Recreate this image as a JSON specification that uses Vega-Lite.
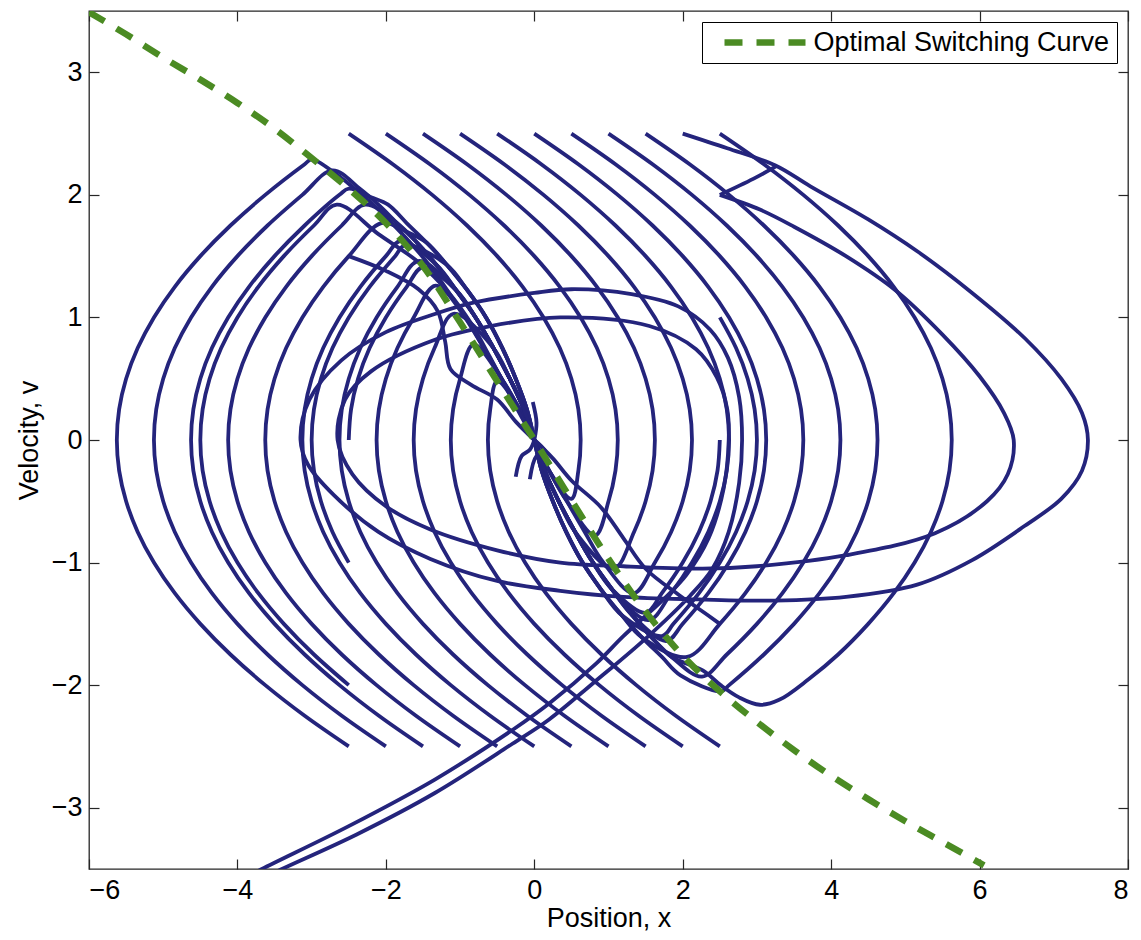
{
"$schema": "https://vega.github.io/schema/vega-lite/v6.json",
"width": 1039, "height": 858,
"autosize": {"type": "none"},
"padding": {"left": 89, "top": 11, "right": 13, "bottom": 71},
"background": "white",
"config": {
  "font": "Liberation Sans",
  "view": {"stroke": "#262626", "strokeWidth": 1.3},
  "axis": {"domain": false, "grid": false, "tickSize": -10, "tickColor": "#262626", "tickWidth": 1.2,
           "labelFontSize": 27, "labelColor": "#000", "labelPadding": 18,
           "titleFontSize": 27, "titleFontWeight": "normal", "titleColor": "#000"},
  "legend": {"strokeColor": "#000", "fillColor": "#fff", "padding": 7, "orient": "top-right", "offset": 11}
},
"datasets": {
"g": [
{"x":-6,"v":3.49},{"x":-5.5,"v":3.31},{"x":-5,"v":3.12},{"x":-4.5,"v":2.94},{"x":-4,"v":2.75},{"x":-3.5,"v":2.54},{"x":-3,"v":2.3},{"x":-2.5,"v":2.05},{"x":-2,"v":1.77},{"x":-1.5,"v":1.42},{"x":-1,"v":0.96},{"x":-0.5,"v":0.48},{"x":0,"v":0},{"x":0.5,"v":-0.49},{"x":1,"v":-0.97},{"x":1.5,"v":-1.4},{"x":2,"v":-1.76},{"x":2.5,"v":-2.05},{"x":3,"v":-2.3},{"x":3.5,"v":-2.53},{"x":4,"v":-2.74},{"x":4.5,"v":-2.93},{"x":5,"v":-3.11},{"x":5.5,"v":-3.28},{"x":6.06,"v":-3.47}
],
"b": [
{"s":"T1","x":-2.5,"v":2.5},{"s":"T1","x":-1.906,"v":2.25},{"s":"T1","x":-1.375,"v":2},{"s":"T1","x":-0.906,"v":1.75},{"s":"T1","x":-0.5,"v":1.5},{"s":"T1","x":-0.156,"v":1.25},{"s":"T1","x":0.125,"v":1},{"s":"T1","x":0.344,"v":0.75},{"s":"T1","x":0.5,"v":0.5},{"s":"T1","x":0.594,"v":0.25},{"s":"T1","x":0.625,"v":0},{"s":"T1","x":0.594,"v":-0.25},{"s":"T1","x":0.5,"v":-0.48},{"s":"T1","x":0.2,"v":-0.25},{"s":"T1","x":0,"v":0},

{"s":"T2","x":-2,"v":2.5},{"s":"T2","x":-1.406,"v":2.25},{"s":"T2","x":-0.875,"v":2},{"s":"T2","x":-0.406,"v":1.75},{"s":"T2","x":0,"v":1.5},{"s":"T2","x":0.344,"v":1.25},{"s":"T2","x":0.625,"v":1},{"s":"T2","x":0.844,"v":0.75},{"s":"T2","x":1,"v":0.5},{"s":"T2","x":1.094,"v":0.25},{"s":"T2","x":1.125,"v":0},{"s":"T2","x":1.094,"v":-0.25},{"s":"T2","x":1,"v":-0.5},{"s":"T2","x":0.82,"v":-0.78},{"s":"T2","x":0.44,"v":-0.5},{"s":"T2","x":0.2,"v":-0.25},{"s":"T2","x":0,"v":0},

{"s":"T3","x":-1.5,"v":2.5},{"s":"T3","x":-0.906,"v":2.25},{"s":"T3","x":-0.375,"v":2},{"s":"T3","x":0.094,"v":1.75},{"s":"T3","x":0.5,"v":1.5},{"s":"T3","x":0.844,"v":1.25},{"s":"T3","x":1.125,"v":1},{"s":"T3","x":1.344,"v":0.75},{"s":"T3","x":1.5,"v":0.5},{"s":"T3","x":1.594,"v":0.25},{"s":"T3","x":1.625,"v":0},{"s":"T3","x":1.594,"v":-0.25},{"s":"T3","x":1.5,"v":-0.5},{"s":"T3","x":1.344,"v":-0.75},{"s":"T3","x":1.07,"v":-1.05},{"s":"T3","x":0.55,"v":-0.75},{"s":"T3","x":0.33,"v":-0.5},{"s":"T3","x":0.14,"v":-0.25},{"s":"T3","x":0,"v":0},

{"s":"T4","x":-1,"v":2.5},{"s":"T4","x":-0.406,"v":2.25},{"s":"T4","x":0.125,"v":2},{"s":"T4","x":0.594,"v":1.75},{"s":"T4","x":1,"v":1.5},{"s":"T4","x":1.344,"v":1.25},{"s":"T4","x":1.625,"v":1},{"s":"T4","x":1.844,"v":0.75},{"s":"T4","x":2,"v":0.5},{"s":"T4","x":2.094,"v":0.25},{"s":"T4","x":2.125,"v":0},{"s":"T4","x":2.094,"v":-0.25},{"s":"T4","x":2,"v":-0.5},{"s":"T4","x":1.844,"v":-0.75},{"s":"T4","x":1.625,"v":-1},{"s":"T4","x":1.34,"v":-1.25},{"s":"T4","x":0.92,"v":-0.99},{"s":"T4","x":0.68,"v":-0.75},{"s":"T4","x":0.44,"v":-0.5},{"s":"T4","x":0.2,"v":-0.25},{"s":"T4","x":0,"v":0},

{"s":"T5","x":-0.5,"v":2.5},{"s":"T5","x":0.094,"v":2.25},{"s":"T5","x":0.625,"v":2},{"s":"T5","x":1.094,"v":1.75},{"s":"T5","x":1.5,"v":1.5},{"s":"T5","x":1.844,"v":1.25},{"s":"T5","x":2.125,"v":1},{"s":"T5","x":2.344,"v":0.75},{"s":"T5","x":2.5,"v":0.5},{"s":"T5","x":2.594,"v":0.25},{"s":"T5","x":2.625,"v":0},{"s":"T5","x":2.594,"v":-0.25},{"s":"T5","x":2.5,"v":-0.5},{"s":"T5","x":2.344,"v":-0.75},{"s":"T5","x":2.125,"v":-1},{"s":"T5","x":1.844,"v":-1.25},{"s":"T5","x":1.54,"v":-1.47},{"s":"T5","x":1.05,"v":-1.22},{"s":"T5","x":0.78,"v":-0.99},{"s":"T5","x":0.55,"v":-0.75},{"s":"T5","x":0.33,"v":-0.5},{"s":"T5","x":0.14,"v":-0.25},{"s":"T5","x":0,"v":0},

{"s":"T6","x":0,"v":2.5},{"s":"T6","x":0.594,"v":2.25},{"s":"T6","x":1.125,"v":2},{"s":"T6","x":1.594,"v":1.75},{"s":"T6","x":2,"v":1.5},{"s":"T6","x":2.344,"v":1.25},{"s":"T6","x":2.625,"v":1},{"s":"T6","x":2.844,"v":0.75},{"s":"T6","x":3,"v":0.5},{"s":"T6","x":3.094,"v":0.25},{"s":"T6","x":3.125,"v":0},{"s":"T6","x":3.094,"v":-0.25},{"s":"T6","x":3,"v":-0.5},{"s":"T6","x":2.844,"v":-0.75},{"s":"T6","x":2.625,"v":-1},{"s":"T6","x":2.344,"v":-1.25},{"s":"T6","x":2,"v":-1.5},{"s":"T6","x":1.78,"v":-1.64},{"s":"T6","x":1.32,"v":-1.43},{"s":"T6","x":1.05,"v":-1.22},{"s":"T6","x":0.78,"v":-0.99},{"s":"T6","x":0.55,"v":-0.75},{"s":"T6","x":0.33,"v":-0.5},{"s":"T6","x":0.14,"v":-0.25},{"s":"T6","x":0,"v":0},

{"s":"T7","x":0.5,"v":2.5},{"s":"T7","x":1.094,"v":2.25},{"s":"T7","x":1.625,"v":2},{"s":"T7","x":2.094,"v":1.75},{"s":"T7","x":2.5,"v":1.5},{"s":"T7","x":2.844,"v":1.25},{"s":"T7","x":3.125,"v":1},{"s":"T7","x":3.344,"v":0.75},{"s":"T7","x":3.5,"v":0.5},{"s":"T7","x":3.594,"v":0.25},{"s":"T7","x":3.625,"v":0},{"s":"T7","x":3.594,"v":-0.25},{"s":"T7","x":3.5,"v":-0.5},{"s":"T7","x":3.344,"v":-0.75},{"s":"T7","x":3.125,"v":-1},{"s":"T7","x":2.844,"v":-1.25},{"s":"T7","x":2.5,"v":-1.5},{"s":"T7","x":2.06,"v":-1.77},{"s":"T7","x":1.45,"v":-1.61},{"s":"T7","x":1.18,"v":-1.43},{"s":"T7","x":0.9,"v":-1.22},{"s":"T7","x":0.64,"v":-0.99},{"s":"T7","x":0.43,"v":-0.75},{"s":"T7","x":0.25,"v":-0.5},{"s":"T7","x":0.1,"v":-0.25},{"s":"T7","x":0,"v":0},

{"s":"T8","x":1,"v":2.5},{"s":"T8","x":1.594,"v":2.25},{"s":"T8","x":2.125,"v":2},{"s":"T8","x":2.594,"v":1.75},{"s":"T8","x":3,"v":1.5},{"s":"T8","x":3.344,"v":1.25},{"s":"T8","x":3.625,"v":1},{"s":"T8","x":3.844,"v":0.75},{"s":"T8","x":4,"v":0.5},{"s":"T8","x":4.094,"v":0.25},{"s":"T8","x":4.125,"v":0},{"s":"T8","x":4.094,"v":-0.25},{"s":"T8","x":4,"v":-0.5},{"s":"T8","x":3.844,"v":-0.75},{"s":"T8","x":3.625,"v":-1},{"s":"T8","x":3.344,"v":-1.25},{"s":"T8","x":3,"v":-1.5},{"s":"T8","x":2.594,"v":-1.75},{"s":"T8","x":2.26,"v":-1.93},{"s":"T8","x":1.85,"v":-1.77},{"s":"T8","x":1.58,"v":-1.61},{"s":"T8","x":1.32,"v":-1.43},{"s":"T8","x":1.05,"v":-1.22},{"s":"T8","x":0.78,"v":-0.99},{"s":"T8","x":0.55,"v":-0.75},{"s":"T8","x":0.33,"v":-0.5},{"s":"T8","x":0.14,"v":-0.25},{"s":"T8","x":0,"v":0},

{"s":"T9","x":1.5,"v":2.5},{"s":"T9","x":2.094,"v":2.25},{"s":"T9","x":2.625,"v":2},{"s":"T9","x":3.094,"v":1.75},{"s":"T9","x":3.5,"v":1.5},{"s":"T9","x":3.844,"v":1.25},{"s":"T9","x":4.125,"v":1},{"s":"T9","x":4.344,"v":0.75},{"s":"T9","x":4.5,"v":0.5},{"s":"T9","x":4.594,"v":0.25},{"s":"T9","x":4.625,"v":0},{"s":"T9","x":4.594,"v":-0.25},{"s":"T9","x":4.5,"v":-0.5},{"s":"T9","x":4.344,"v":-0.75},{"s":"T9","x":4.125,"v":-1},{"s":"T9","x":3.844,"v":-1.25},{"s":"T9","x":3.5,"v":-1.5},{"s":"T9","x":3.094,"v":-1.75},{"s":"T9","x":2.625,"v":-2},{"s":"T9","x":2.52,"v":-2.05},{"s":"T9","x":1.97,"v":-1.92},{"s":"T9","x":1.72,"v":-1.77},{"s":"T9","x":1.45,"v":-1.61},{"s":"T9","x":1.18,"v":-1.43},{"s":"T9","x":0.9,"v":-1.22},{"s":"T9","x":0.64,"v":-0.99},{"s":"T9","x":0.43,"v":-0.75},{"s":"T9","x":0.25,"v":-0.5},{"s":"T9","x":0.1,"v":-0.25},{"s":"T9","x":0,"v":0},

{"s":"T11","x":2.5,"v":2.5},{"s":"T11","x":3.094,"v":2.25},{"s":"T11","x":3.625,"v":2},{"s":"T11","x":4.094,"v":1.75},{"s":"T11","x":4.5,"v":1.5},{"s":"T11","x":4.844,"v":1.25},{"s":"T11","x":5.125,"v":1},{"s":"T11","x":5.344,"v":0.75},{"s":"T11","x":5.5,"v":0.5},{"s":"T11","x":5.594,"v":0.25},{"s":"T11","x":5.625,"v":0},{"s":"T11","x":5.594,"v":-0.25},{"s":"T11","x":5.5,"v":-0.5},{"s":"T11","x":5.344,"v":-0.75},{"s":"T11","x":5.125,"v":-1},{"s":"T11","x":4.844,"v":-1.25},{"s":"T11","x":4.5,"v":-1.5},{"s":"T11","x":4.094,"v":-1.75},{"s":"T11","x":3.7,"v":-1.95},{"s":"T11","x":3.3,"v":-2.12},{"s":"T11","x":3.04,"v":-2.16},{"s":"T11","x":2.76,"v":-2.1},{"s":"T11","x":2.51,"v":-2},{"s":"T11","x":2.27,"v":-1.88},{"s":"T11","x":1.85,"v":-1.77},{"s":"T11","x":1.58,"v":-1.61},{"s":"T11","x":1.32,"v":-1.43},{"s":"T11","x":1.05,"v":-1.22},{"s":"T11","x":0.78,"v":-0.99},{"s":"T11","x":0.55,"v":-0.75},{"s":"T11","x":0.33,"v":-0.5},{"s":"T11","x":0.14,"v":-0.25},{"s":"T11","x":0,"v":0},

{"s":"B1","x":-2.5,"v":-2.5},{"s":"B1","x":-3.094,"v":-2.25},{"s":"B1","x":-3.625,"v":-2},{"s":"B1","x":-4.094,"v":-1.75},{"s":"B1","x":-4.5,"v":-1.5},{"s":"B1","x":-4.844,"v":-1.25},{"s":"B1","x":-5.125,"v":-1},{"s":"B1","x":-5.344,"v":-0.75},{"s":"B1","x":-5.5,"v":-0.5},{"s":"B1","x":-5.594,"v":-0.25},{"s":"B1","x":-5.625,"v":0},{"s":"B1","x":-5.594,"v":0.25},{"s":"B1","x":-5.5,"v":0.5},{"s":"B1","x":-5.344,"v":0.75},{"s":"B1","x":-5.125,"v":1},{"s":"B1","x":-4.844,"v":1.25},{"s":"B1","x":-4.5,"v":1.5},{"s":"B1","x":-4.094,"v":1.75},{"s":"B1","x":-3.625,"v":2},{"s":"B1","x":-3.094,"v":2.25},{"s":"B1","x":-3.0,"v":2.29},{"s":"B1","x":-2.67,"v":2.17},{"s":"B1","x":-2.42,"v":2.05},{"s":"B1","x":-2.17,"v":1.92},{"s":"B1","x":-1.92,"v":1.77},{"s":"B1","x":-1.67,"v":1.61},{"s":"B1","x":-1.42,"v":1.43},{"s":"B1","x":-1.17,"v":1.22},{"s":"B1","x":-0.92,"v":0.99},{"s":"B1","x":-0.68,"v":0.75},{"s":"B1","x":-0.44,"v":0.5},{"s":"B1","x":-0.2,"v":0.25},{"s":"B1","x":0,"v":0},

{"s":"B2","x":-2,"v":-2.5},{"s":"B2","x":-2.594,"v":-2.25},{"s":"B2","x":-3.125,"v":-2},{"s":"B2","x":-3.594,"v":-1.75},{"s":"B2","x":-4,"v":-1.5},{"s":"B2","x":-4.344,"v":-1.25},{"s":"B2","x":-4.625,"v":-1},{"s":"B2","x":-4.844,"v":-0.75},{"s":"B2","x":-5,"v":-0.5},{"s":"B2","x":-5.094,"v":-0.25},{"s":"B2","x":-5.125,"v":0},{"s":"B2","x":-5.094,"v":0.25},{"s":"B2","x":-5,"v":0.5},{"s":"B2","x":-4.844,"v":0.75},{"s":"B2","x":-4.625,"v":1},{"s":"B2","x":-4.344,"v":1.25},{"s":"B2","x":-4,"v":1.5},{"s":"B2","x":-3.594,"v":1.75},{"s":"B2","x":-3.125,"v":2},{"s":"B2","x":-2.72,"v":2.2},{"s":"B2","x":-2.35,"v":2.05},{"s":"B2","x":-2.1,"v":1.92},{"s":"B2","x":-1.85,"v":1.77},{"s":"B2","x":-1.58,"v":1.61},{"s":"B2","x":-1.32,"v":1.43},{"s":"B2","x":-1.05,"v":1.22},{"s":"B2","x":-0.78,"v":0.99},{"s":"B2","x":-0.55,"v":0.75},{"s":"B2","x":-0.33,"v":0.5},{"s":"B2","x":-0.14,"v":0.25},{"s":"B2","x":0,"v":0},

{"s":"B3","x":-1.5,"v":-2.5},{"s":"B3","x":-2.094,"v":-2.25},{"s":"B3","x":-2.625,"v":-2},{"s":"B3","x":-3.094,"v":-1.75},{"s":"B3","x":-3.5,"v":-1.5},{"s":"B3","x":-3.844,"v":-1.25},{"s":"B3","x":-4.125,"v":-1},{"s":"B3","x":-4.344,"v":-0.75},{"s":"B3","x":-4.5,"v":-0.5},{"s":"B3","x":-4.594,"v":-0.25},{"s":"B3","x":-4.625,"v":0},{"s":"B3","x":-4.594,"v":0.25},{"s":"B3","x":-4.5,"v":0.5},{"s":"B3","x":-4.344,"v":0.75},{"s":"B3","x":-4.125,"v":1},{"s":"B3","x":-3.844,"v":1.25},{"s":"B3","x":-3.5,"v":1.5},{"s":"B3","x":-3.094,"v":1.75},{"s":"B3","x":-2.625,"v":2},{"s":"B3","x":-2.5,"v":2.05},{"s":"B3","x":-2.2,"v":1.98},{"s":"B3","x":-1.97,"v":1.92},{"s":"B3","x":-1.72,"v":1.77},{"s":"B3","x":-1.45,"v":1.61},{"s":"B3","x":-1.18,"v":1.43},{"s":"B3","x":-0.9,"v":1.22},{"s":"B3","x":-0.64,"v":0.99},{"s":"B3","x":-0.43,"v":0.75},{"s":"B3","x":-0.25,"v":0.5},{"s":"B3","x":-0.1,"v":0.25},{"s":"B3","x":0,"v":0},

{"s":"B4","x":-1,"v":-2.5},{"s":"B4","x":-1.594,"v":-2.25},{"s":"B4","x":-2.125,"v":-2},{"s":"B4","x":-2.594,"v":-1.75},{"s":"B4","x":-3,"v":-1.5},{"s":"B4","x":-3.344,"v":-1.25},{"s":"B4","x":-3.625,"v":-1},{"s":"B4","x":-3.844,"v":-0.75},{"s":"B4","x":-4,"v":-0.5},{"s":"B4","x":-4.094,"v":-0.25},{"s":"B4","x":-4.125,"v":0},{"s":"B4","x":-4.094,"v":0.25},{"s":"B4","x":-4,"v":0.5},{"s":"B4","x":-3.844,"v":0.75},{"s":"B4","x":-3.625,"v":1},{"s":"B4","x":-3.344,"v":1.25},{"s":"B4","x":-3,"v":1.5},{"s":"B4","x":-2.594,"v":1.75},{"s":"B4","x":-2.28,"v":1.92},{"s":"B4","x":-1.85,"v":1.77},{"s":"B4","x":-1.58,"v":1.61},{"s":"B4","x":-1.32,"v":1.43},{"s":"B4","x":-1.05,"v":1.22},{"s":"B4","x":-0.78,"v":0.99},{"s":"B4","x":-0.55,"v":0.75},{"s":"B4","x":-0.33,"v":0.5},{"s":"B4","x":-0.14,"v":0.25},{"s":"B4","x":0,"v":0},

{"s":"B5","x":-0.5,"v":-2.5},{"s":"B5","x":-1.094,"v":-2.25},{"s":"B5","x":-1.625,"v":-2},{"s":"B5","x":-2.094,"v":-1.75},{"s":"B5","x":-2.5,"v":-1.5},{"s":"B5","x":-2.844,"v":-1.25},{"s":"B5","x":-3.125,"v":-1},{"s":"B5","x":-3.344,"v":-0.75},{"s":"B5","x":-3.5,"v":-0.5},{"s":"B5","x":-3.594,"v":-0.25},{"s":"B5","x":-3.625,"v":0},{"s":"B5","x":-3.594,"v":0.25},{"s":"B5","x":-3.5,"v":0.5},{"s":"B5","x":-3.344,"v":0.75},{"s":"B5","x":-3.125,"v":1},{"s":"B5","x":-2.844,"v":1.25},{"s":"B5","x":-2.5,"v":1.5},{"s":"B5","x":-2.06,"v":1.77},{"s":"B5","x":-1.72,"v":1.7},{"s":"B5","x":-1.45,"v":1.61},{"s":"B5","x":-1.18,"v":1.43},{"s":"B5","x":-0.9,"v":1.22},{"s":"B5","x":-0.64,"v":0.99},{"s":"B5","x":-0.43,"v":0.75},{"s":"B5","x":-0.25,"v":0.5},{"s":"B5","x":-0.1,"v":0.25},{"s":"B5","x":0,"v":0},

{"s":"B6","x":0,"v":-2.5},{"s":"B6","x":-0.594,"v":-2.25},{"s":"B6","x":-1.125,"v":-2},{"s":"B6","x":-1.594,"v":-1.75},{"s":"B6","x":-2,"v":-1.5},{"s":"B6","x":-2.344,"v":-1.25},{"s":"B6","x":-2.625,"v":-1},{"s":"B6","x":-2.844,"v":-0.75},{"s":"B6","x":-3,"v":-0.5},{"s":"B6","x":-3.094,"v":-0.25},{"s":"B6","x":-3.125,"v":0},{"s":"B6","x":-3.094,"v":0.25},{"s":"B6","x":-3,"v":0.5},{"s":"B6","x":-2.844,"v":0.75},{"s":"B6","x":-2.625,"v":1},{"s":"B6","x":-2.344,"v":1.25},{"s":"B6","x":-2,"v":1.5},{"s":"B6","x":-1.8,"v":1.625},{"s":"B6","x":-1.32,"v":1.43},{"s":"B6","x":-1.05,"v":1.22},{"s":"B6","x":-0.78,"v":0.99},{"s":"B6","x":-0.55,"v":0.75},{"s":"B6","x":-0.33,"v":0.5},{"s":"B6","x":-0.14,"v":0.25},{"s":"B6","x":0,"v":0},

{"s":"B7","x":0.5,"v":-2.5},{"s":"B7","x":-0.094,"v":-2.25},{"s":"B7","x":-0.625,"v":-2},{"s":"B7","x":-1.094,"v":-1.75},{"s":"B7","x":-1.5,"v":-1.5},{"s":"B7","x":-1.844,"v":-1.25},{"s":"B7","x":-2.125,"v":-1},{"s":"B7","x":-2.344,"v":-0.75},{"s":"B7","x":-2.5,"v":-0.5},{"s":"B7","x":-2.594,"v":-0.25},{"s":"B7","x":-2.625,"v":0},{"s":"B7","x":-2.594,"v":0.25},{"s":"B7","x":-2.5,"v":0.5},{"s":"B7","x":-2.344,"v":0.75},{"s":"B7","x":-2.125,"v":1},{"s":"B7","x":-1.844,"v":1.25},{"s":"B7","x":-1.56,"v":1.46},{"s":"B7","x":-1.05,"v":1.22},{"s":"B7","x":-0.78,"v":0.99},{"s":"B7","x":-0.55,"v":0.75},{"s":"B7","x":-0.33,"v":0.5},{"s":"B7","x":-0.14,"v":0.25},{"s":"B7","x":0,"v":0},

{"s":"B8","x":1,"v":-2.5},{"s":"B8","x":0.406,"v":-2.25},{"s":"B8","x":-0.125,"v":-2},{"s":"B8","x":-0.594,"v":-1.75},{"s":"B8","x":-1,"v":-1.5},{"s":"B8","x":-1.344,"v":-1.25},{"s":"B8","x":-1.625,"v":-1},{"s":"B8","x":-1.844,"v":-0.75},{"s":"B8","x":-2,"v":-0.5},{"s":"B8","x":-2.094,"v":-0.25},{"s":"B8","x":-2.125,"v":0},{"s":"B8","x":-2.094,"v":0.25},{"s":"B8","x":-2,"v":0.5},{"s":"B8","x":-1.844,"v":0.75},{"s":"B8","x":-1.625,"v":1},{"s":"B8","x":-1.33,"v":1.26},{"s":"B8","x":-0.92,"v":0.99},{"s":"B8","x":-0.68,"v":0.75},{"s":"B8","x":-0.44,"v":0.5},{"s":"B8","x":-0.2,"v":0.25},{"s":"B8","x":0,"v":0},

{"s":"B9","x":1.5,"v":-2.5},{"s":"B9","x":0.906,"v":-2.25},{"s":"B9","x":0.375,"v":-2},{"s":"B9","x":-0.094,"v":-1.75},{"s":"B9","x":-0.5,"v":-1.5},{"s":"B9","x":-0.844,"v":-1.25},{"s":"B9","x":-1.125,"v":-1},{"s":"B9","x":-1.344,"v":-0.75},{"s":"B9","x":-1.5,"v":-0.5},{"s":"B9","x":-1.594,"v":-0.25},{"s":"B9","x":-1.625,"v":0},{"s":"B9","x":-1.594,"v":0.25},{"s":"B9","x":-1.5,"v":0.5},{"s":"B9","x":-1.344,"v":0.75},{"s":"B9","x":-1.09,"v":1.03},{"s":"B9","x":-0.55,"v":0.75},{"s":"B9","x":-0.33,"v":0.5},{"s":"B9","x":-0.14,"v":0.25},{"s":"B9","x":0,"v":0},

{"s":"B10","x":2,"v":-2.5},{"s":"B10","x":1.406,"v":-2.25},{"s":"B10","x":0.875,"v":-2},{"s":"B10","x":0.406,"v":-1.75},{"s":"B10","x":0,"v":-1.5},{"s":"B10","x":-0.344,"v":-1.25},{"s":"B10","x":-0.625,"v":-1},{"s":"B10","x":-0.844,"v":-0.75},{"s":"B10","x":-1,"v":-0.5},{"s":"B10","x":-1.094,"v":-0.25},{"s":"B10","x":-1.125,"v":0},{"s":"B10","x":-1.094,"v":0.25},{"s":"B10","x":-1,"v":0.5},{"s":"B10","x":-0.82,"v":0.78},{"s":"B10","x":-0.44,"v":0.5},{"s":"B10","x":-0.2,"v":0.25},{"s":"B10","x":0,"v":0},

{"s":"B11","x":2.5,"v":-2.5},{"s":"B11","x":1.906,"v":-2.25},{"s":"B11","x":1.375,"v":-2},{"s":"B11","x":0.906,"v":-1.75},{"s":"B11","x":0.5,"v":-1.5},{"s":"B11","x":0.156,"v":-1.25},{"s":"B11","x":-0.125,"v":-1},{"s":"B11","x":-0.344,"v":-0.75},{"s":"B11","x":-0.5,"v":-0.5},{"s":"B11","x":-0.594,"v":-0.25},{"s":"B11","x":-0.625,"v":0},{"s":"B11","x":-0.594,"v":0.25},{"s":"B11","x":-0.5,"v":0.48},{"s":"B11","x":-0.2,"v":0.25},{"s":"B11","x":0,"v":0},

{"s":"L1","x":-2.5,"v":-2},{"s":"L1","x":-2.969,"v":-1.75},{"s":"L1","x":-3.375,"v":-1.5},{"s":"L1","x":-3.719,"v":-1.25},{"s":"L1","x":-4,"v":-1},{"s":"L1","x":-4.219,"v":-0.75},{"s":"L1","x":-4.375,"v":-0.5},{"s":"L1","x":-4.469,"v":-0.25},{"s":"L1","x":-4.5,"v":0},{"s":"L1","x":-4.469,"v":0.25},{"s":"L1","x":-4.375,"v":0.5},{"s":"L1","x":-4.219,"v":0.75},{"s":"L1","x":-4,"v":1},{"s":"L1","x":-3.719,"v":1.25},{"s":"L1","x":-3.375,"v":1.5},{"s":"L1","x":-2.969,"v":1.75},{"s":"L1","x":-2.66,"v":1.92},{"s":"L1","x":-2.1,"v":1.68},{"s":"L1","x":-1.56,"v":1.45},{"s":"L1","x":-1.15,"v":1.2},{"s":"L1","x":-0.85,"v":0.95},{"s":"L1","x":-0.6,"v":0.68},{"s":"L1","x":-0.4,"v":0.45},{"s":"L1","x":-0.2,"v":0.22},{"s":"L1","x":0,"v":0},

{"s":"L2","x":-2.5,"v":-1},{"s":"L2","x":-2.719,"v":-0.75},{"s":"L2","x":-2.875,"v":-0.5},{"s":"L2","x":-2.969,"v":-0.25},{"s":"L2","x":-3,"v":0},{"s":"L2","x":-2.969,"v":0.25},{"s":"L2","x":-2.875,"v":0.5},{"s":"L2","x":-2.719,"v":0.75},{"s":"L2","x":-2.5,"v":1},{"s":"L2","x":-2.219,"v":1.25},{"s":"L2","x":-1.875,"v":1.5},{"s":"L2","x":-1.74,"v":1.59},{"s":"L2","x":-1.18,"v":1.43},{"s":"L2","x":-0.9,"v":1.22},{"s":"L2","x":-0.64,"v":0.99},{"s":"L2","x":-0.43,"v":0.75},{"s":"L2","x":-0.25,"v":0.5},{"s":"L2","x":-0.1,"v":0.25},{"s":"L2","x":0,"v":0},

{"s":"L3","x":-2.5,"v":0},{"s":"L3","x":-2.469,"v":0.25},{"s":"L3","x":-2.375,"v":0.5},{"s":"L3","x":-2.219,"v":0.75},{"s":"L3","x":-2,"v":1},{"s":"L3","x":-1.719,"v":1.25},{"s":"L3","x":-1.5,"v":1.41},{"s":"L3","x":-1.05,"v":1.22},{"s":"L3","x":-0.78,"v":0.99},{"s":"L3","x":-0.55,"v":0.75},{"s":"L3","x":-0.33,"v":0.5},{"s":"L3","x":-0.14,"v":0.25},{"s":"L3","x":0,"v":0},

{"s":"L4","x":-2.5,"v":1.5},{"s":"L4","x":-2.0,"v":1.38},{"s":"L4","x":-1.56,"v":1.23},{"s":"L4","x":-1.3,"v":1.05},{"s":"L4","x":-1.2,"v":0.8},{"s":"L4","x":-1.13,"v":0.58},{"s":"L4","x":-0.85,"v":0.45},{"s":"L4","x":-0.5,"v":0.33},{"s":"L4","x":-0.25,"v":0.15},{"s":"L4","x":0,"v":0},

{"s":"R1","x":2.5,"v":1},{"s":"R1","x":2.719,"v":0.75},{"s":"R1","x":2.875,"v":0.5},{"s":"R1","x":2.969,"v":0.25},{"s":"R1","x":3,"v":0},{"s":"R1","x":2.969,"v":-0.25},{"s":"R1","x":2.875,"v":-0.5},{"s":"R1","x":2.719,"v":-0.75},{"s":"R1","x":2.5,"v":-1},{"s":"R1","x":2.219,"v":-1.25},{"s":"R1","x":1.875,"v":-1.5},{"s":"R1","x":1.72,"v":-1.6},{"s":"R1","x":1.18,"v":-1.43},{"s":"R1","x":0.9,"v":-1.22},{"s":"R1","x":0.64,"v":-0.99},{"s":"R1","x":0.43,"v":-0.75},{"s":"R1","x":0.25,"v":-0.5},{"s":"R1","x":0.1,"v":-0.25},{"s":"R1","x":0,"v":0},

{"s":"R2","x":2.5,"v":0},{"s":"R2","x":2.469,"v":-0.25},{"s":"R2","x":2.375,"v":-0.5},{"s":"R2","x":2.219,"v":-0.75},{"s":"R2","x":2,"v":-1},{"s":"R2","x":1.719,"v":-1.25},{"s":"R2","x":1.5,"v":-1.41},{"s":"R2","x":1.05,"v":-1.22},{"s":"R2","x":0.78,"v":-0.99},{"s":"R2","x":0.55,"v":-0.75},{"s":"R2","x":0.33,"v":-0.5},{"s":"R2","x":0.14,"v":-0.25},{"s":"R2","x":0,"v":0},

{"s":"R3","x":2.5,"v":-1.5},{"s":"R3","x":2.2,"v":-1.37},{"s":"R3","x":1.94,"v":-1.26},{"s":"R3","x":1.5,"v":-1.05},{"s":"R3","x":1.2,"v":-0.8},{"s":"R3","x":0.9,"v":-0.55},{"s":"R3","x":0.5,"v":-0.33},{"s":"R3","x":0.25,"v":-0.15},{"s":"R3","x":0,"v":0},

{"s":"LA","x":2.0,"v":2.5},{"s":"LA","x":2.6,"v":2.38},{"s":"LA","x":3.25,"v":2.24},{"s":"LA","x":3.72,"v":2.07},{"s":"LA","x":4.5,"v":1.8},{"s":"LA","x":5.16,"v":1.54},{"s":"LA","x":5.9,"v":1.2},{"s":"LA","x":6.61,"v":0.83},{"s":"LA","x":7.1,"v":0.5},{"s":"LA","x":7.38,"v":0.22},{"s":"LA","x":7.46,"v":0},{"s":"LA","x":7.38,"v":-0.25},{"s":"LA","x":7.1,"v":-0.48},{"s":"LA","x":6.61,"v":-0.7},{"s":"LA","x":5.9,"v":-0.98},{"s":"LA","x":5.16,"v":-1.18},{"s":"LA","x":4.2,"v":-1.28},{"s":"LA","x":3.24,"v":-1.31},{"s":"LA","x":2.2,"v":-1.3},{"s":"LA","x":1.2,"v":-1.28},{"s":"LA","x":0.35,"v":-1.23},{"s":"LA","x":-0.5,"v":-1.15},{"s":"LA","x":-1.4,"v":-0.97},{"s":"LA","x":-2.1,"v":-0.75},{"s":"LA","x":-2.7,"v":-0.45},{"s":"LA","x":-3.05,"v":-0.2},{"s":"LA","x":-3.15,"v":0},{"s":"LA","x":-3.03,"v":0.33},{"s":"LA","x":-2.6,"v":0.65},{"s":"LA","x":-2.0,"v":0.88},{"s":"LA","x":-1.33,"v":1.03},{"s":"LA","x":-0.82,"v":1.12},{"s":"LA","x":0,"v":1.2},{"s":"LA","x":0.5,"v":1.23},{"s":"LA","x":1.31,"v":1.19},{"s":"LA","x":1.94,"v":1.09},{"s":"LA","x":2.37,"v":0.9},{"s":"LA","x":2.61,"v":0.67},{"s":"LA","x":2.76,"v":0.35},{"s":"LA","x":2.8,"v":0},{"s":"LA","x":2.76,"v":-0.35},{"s":"LA","x":2.62,"v":-0.75},{"s":"LA","x":2.4,"v":-1.05},{"s":"LA","x":2.1,"v":-1.27},{"s":"LA","x":1.5,"v":-1.62},{"s":"LA","x":0.8,"v":-1.98},{"s":"LA","x":0.2,"v":-2.28},{"s":"LA","x":-0.3,"v":-2.48},{"s":"LA","x":-1.34,"v":-2.88},{"s":"LA","x":-2.4,"v":-3.22},{"s":"LA","x":-3.4,"v":-3.5},{"s":"LA","x":-3.6,"v":-3.56},

{"s":"LB","x":2.5,"v":2.0},{"s":"LB","x":3.04,"v":1.88},{"s":"LB","x":3.5,"v":1.74},{"s":"LB","x":4.2,"v":1.5},{"s":"LB","x":4.87,"v":1.22},{"s":"LB","x":5.5,"v":0.86},{"s":"LB","x":6.0,"v":0.52},{"s":"LB","x":6.33,"v":0.22},{"s":"LB","x":6.46,"v":0},{"s":"LB","x":6.38,"v":-0.28},{"s":"LB","x":6.1,"v":-0.5},{"s":"LB","x":5.4,"v":-0.76},{"s":"LB","x":4.2,"v":-0.94},{"s":"LB","x":3.0,"v":-1.03},{"s":"LB","x":2.27,"v":-1.05},{"s":"LB","x":1.2,"v":-1.03},{"s":"LB","x":0.35,"v":-1.0},{"s":"LB","x":-0.5,"v":-0.9},{"s":"LB","x":-1.4,"v":-0.73},{"s":"LB","x":-2.0,"v":-0.54},{"s":"LB","x":-2.45,"v":-0.28},{"s":"LB","x":-2.65,"v":0},{"s":"LB","x":-2.55,"v":0.33},{"s":"LB","x":-2.2,"v":0.56},{"s":"LB","x":-1.33,"v":0.82},{"s":"LB","x":-0.59,"v":0.93},{"s":"LB","x":0.35,"v":1.0},{"s":"LB","x":1.55,"v":0.93},{"s":"LB","x":2.18,"v":0.74},{"s":"LB","x":2.46,"v":0.51},{"s":"LB","x":2.6,"v":0.25},{"s":"LB","x":2.62,"v":0},{"s":"LB","x":2.55,"v":-0.4},{"s":"LB","x":2.35,"v":-0.8},{"s":"LB","x":2.05,"v":-1.1},{"s":"LB","x":1.74,"v":-1.3},{"s":"LB","x":1.2,"v":-1.6},{"s":"LB","x":0.84,"v":-1.82},{"s":"LB","x":0.2,"v":-2.15},{"s":"LB","x":-0.28,"v":-2.36},{"s":"LB","x":-1.34,"v":-2.77},{"s":"LB","x":-2.5,"v":-3.15},{"s":"LB","x":-3.67,"v":-3.5},{"s":"LB","x":-3.85,"v":-3.56},

{"s":"V","x":2.5,"v":2.0},{"s":"V","x":2.95,"v":2.13},{"s":"V","x":3.25,"v":2.23},

{"s":"J1","x":-0.25,"v":-0.3},{"s":"J1","x":-0.17,"v":-0.13},{"s":"J1","x":-0.06,"v":-0.08},{"s":"J1","x":0,"v":0},
{"s":"J2","x":-0.06,"v":-0.32},{"s":"J2","x":0.03,"v":-0.13},{"s":"J2","x":0.15,"v":-0.1},{"s":"J2","x":0,"v":0},
{"s":"J3","x":-0.02,"v":0.31},{"s":"J3","x":0.03,"v":0.14},{"s":"J3","x":0,"v":0}
]
},
"layer": [
 {"data": {"name": "b"},
  "mark": {"type": "line", "color": "#24247c", "strokeWidth": 3.8, "interpolate": "catmull-rom", "clip": true},
  "encoding": {
   "x": {"field": "x", "type": "quantitative", "scale": {"domain": [-6, 8], "nice": false, "zero": false},
         "axis": {"orient": "bottom", "values": [-6,-4,-2,0,2,4,6,8], "title": "Position, x", "titlePadding": 2}},
   "y": {"field": "v", "type": "quantitative", "scale": {"domain": [-3.5, 3.5], "nice": false, "zero": false},
         "axis": {"orient": "left", "values": [-3,-2,-1,0,1,2,3], "title": "Velocity, v", "titlePadding": 8, "labelPadding": 17}},
   "detail": {"field": "s"},
   "order": {"value": null}
  }},
 {"data": {"name": "g"},
  "mark": {"type": "line", "strokeWidth": 6.5, "strokeDash": [18, 14], "interpolate": "monotone", "clip": true},
  "encoding": {
   "x": {"field": "x", "type": "quantitative", "axis": null},
   "y": {"field": "v", "type": "quantitative", "axis": null},
   "color": {"datum": "Optimal Switching Curve", "type": "nominal", "scale": {"range": ["#4b8b23"]},
     "legend": {"title": null, "symbolType": "M-4.05,0H4.05", "symbolSize": 400, "symbolStrokeWidth": 6.5, "symbolDash": [18, 14],
                "symbolFillColor": "transparent", "symbolOffset": 42.5, "labelFontSize": 27, "labelOffset": 35, "labelLimit": 600, "labelColor": "#000"}},
   "order": {"value": null}
  }},
 {"data": {"name": "g"},
  "mark": {"type": "line", "opacity": 0},
  "encoding": {
   "x": {"field": "x", "type": "quantitative", "axis": {"orient": "top", "labels": false, "title": null, "values": [-6,-4,-2,0,2,4,6,8]}},
   "y": {"field": "v", "type": "quantitative", "axis": {"orient": "right", "labels": false, "title": null, "values": [-3,-2,-1,0,1,2,3]}}
  }}
],
"resolve": {"axis": {"x": "independent", "y": "independent"}}
}
